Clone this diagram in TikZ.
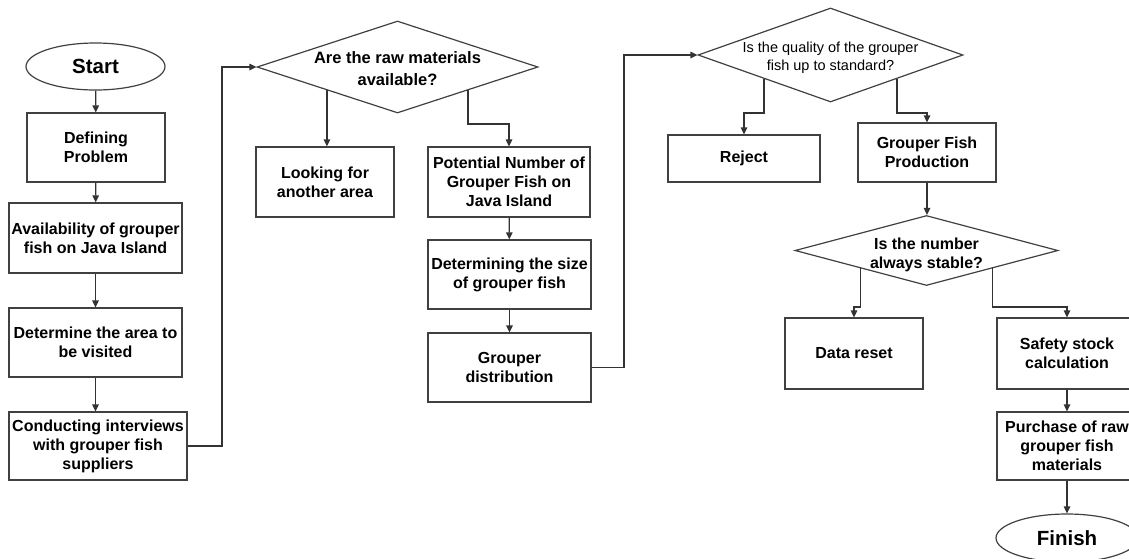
\documentclass[tikz,border=0pt]{standalone}
\usepackage{fontspec}
\setmainfont{Liberation Sans}
\usetikzlibrary{shapes.geometric,arrows.meta,calc}
\tikzset{
  base/.style={draw=black!75, line width=1.2pt, inner sep=0pt, align=center,
    font=\bfseries\fontsize{16}{19}\selectfont},
  box/.style={base, rectangle},
  term/.style={base, ellipse, font=\bfseries\fontsize{20.5}{24}\selectfont},
  dec/.style={draw=black!75, line width=1.2pt, diamond, inner sep=0pt},
  dtxt/.style={align=center, inner sep=0pt, font=\bfseries\fontsize{16}{19}\selectfont},
  dtxtr/.style={align=center, inner sep=0pt, font=\fontsize{14.5}{18}\selectfont},
  arr/.style={draw=black!80, line width=1.2pt, -{Triangle[length=7pt,width=6.5pt]}}
}
\begin{document}
\begin{tikzpicture}[x=1pt,y=-1pt]
\useasboundingbox (0,0) rectangle (1129,558);
\clip (0,0) rectangle (1129,558);
% left column
\node[term, minimum width=139pt, minimum height=47pt] (start) at (95.5,66.5) {Start};
\node[box, minimum width=138pt, minimum height=69pt] (def) at (96,147.5) {Defining\\Problem};
\node[box, minimum width=173pt, minimum height=70pt] (avail) at (95.5,238) {Availability of grouper\\fish on Java Island};
\node[box, minimum width=173pt, minimum height=69pt] (area) at (95.5,342.5) {Determine the area to\\be visited};
\node[box, minimum width=178pt, minimum height=68pt] (conduct) at (98,446) {Conducting interviews\\with grouper fish\\suppliers};
% second group
\node[dec, minimum width=281pt, minimum height=92pt] (d1) at (397.5,67) {};
\node[dtxt, font=\bfseries\fontsize{16.5}{22.5}\selectfont] (d1t) at (397.5,68.5) {Are the raw materials\\available?};
\node[box, minimum width=138pt, minimum height=70pt] (look) at (325,182) {Looking for\\another area};
\node[box, minimum width=162pt, minimum height=70pt] (pot) at (509,182) {Potential Number of\\Grouper Fish on\\Java Island};
\node[box, minimum width=163pt, minimum height=69pt] (size) at (509.5,274.5) {Determining the size\\of grouper fish};
\node[box, minimum width=163pt, minimum height=69pt] (dist) at (509.5,367.5) {Grouper\\distribution};
% third group
\node[dec, minimum width=265pt, minimum height=94pt] (d2) at (830.5,55) {};
\node[dtxtr] (d2t) at (830.5,57.5) {Is the quality of the grouper\\fish up to standard?};
\node[box, minimum width=152pt, minimum height=47pt] (reject) at (744,158.5) {Reject};
\node[box, minimum width=138pt, minimum height=59pt] (prod) at (927,152.5) {Grouper Fish\\Production};
\node[dec, minimum width=263pt, minimum height=70pt] (d3) at (926.5,250.5) {};
\node[dtxt] (d3t) at (926.5,254.5) {Is the number\\always stable?};
\node[box, minimum width=138pt, minimum height=71pt] (reset) at (854,353.5) {Data reset};
\node[box, minimum width=140pt, minimum height=71pt] (safety) at (1067,353.5) {Safety stock\\calculation};
\node[box, minimum width=140pt, minimum height=68pt] (purchase) at (1067,446) {Purchase of raw\\grouper fish\\materials};
\node[term, minimum width=142pt, minimum height=48pt] (finish) at (1067,538) {Finish};
% helper coordinates
\coordinate (c1) at (222,0);
\coordinate (c2) at (624,0);
\coordinate (k1) at (0,124);
\coordinate (k2) at (0,113);
\coordinate (k3) at (0,307);
% connectors
\draw[arr] (start) -- (def);
\draw[arr] (def) -- (avail);
\draw[arr] (avail) -- (area);
\draw[arr] (area.south) -- (area.south |- conduct.north);
\draw[arr] (conduct.east) -| (c1 |- d1.west) -- (d1.west);
\draw[arr] (d1.south west) -- (d1.south west |- look.north);
\draw[arr] (d1.south east) -- (d1.south east |- k1) -| (pot.north);
\draw[arr] (pot) -- (size);
\draw[arr] (size) -- (dist);
\draw[arr] (dist.east) -| (c2 |- d2.west) -- (d2.west);
\draw[arr] (d2.south west) -- (d2.south west |- k2) -| (reject.north);
\draw[arr] (d2.south east) -- (d2.south east |- k2) -| (prod.north);
\draw[arr] (prod.south) -- (prod.south |- d3.north);
\draw[arr] (d3.south west) -- (d3.south west |- k3) -| (reset.north);
\draw[arr] (d3.south east) -- (d3.south east |- k3) -| (safety.north);
\draw[arr] (safety) -- (purchase);
\draw[arr] (purchase) -- (finish);
\end{tikzpicture}
\end{document}
